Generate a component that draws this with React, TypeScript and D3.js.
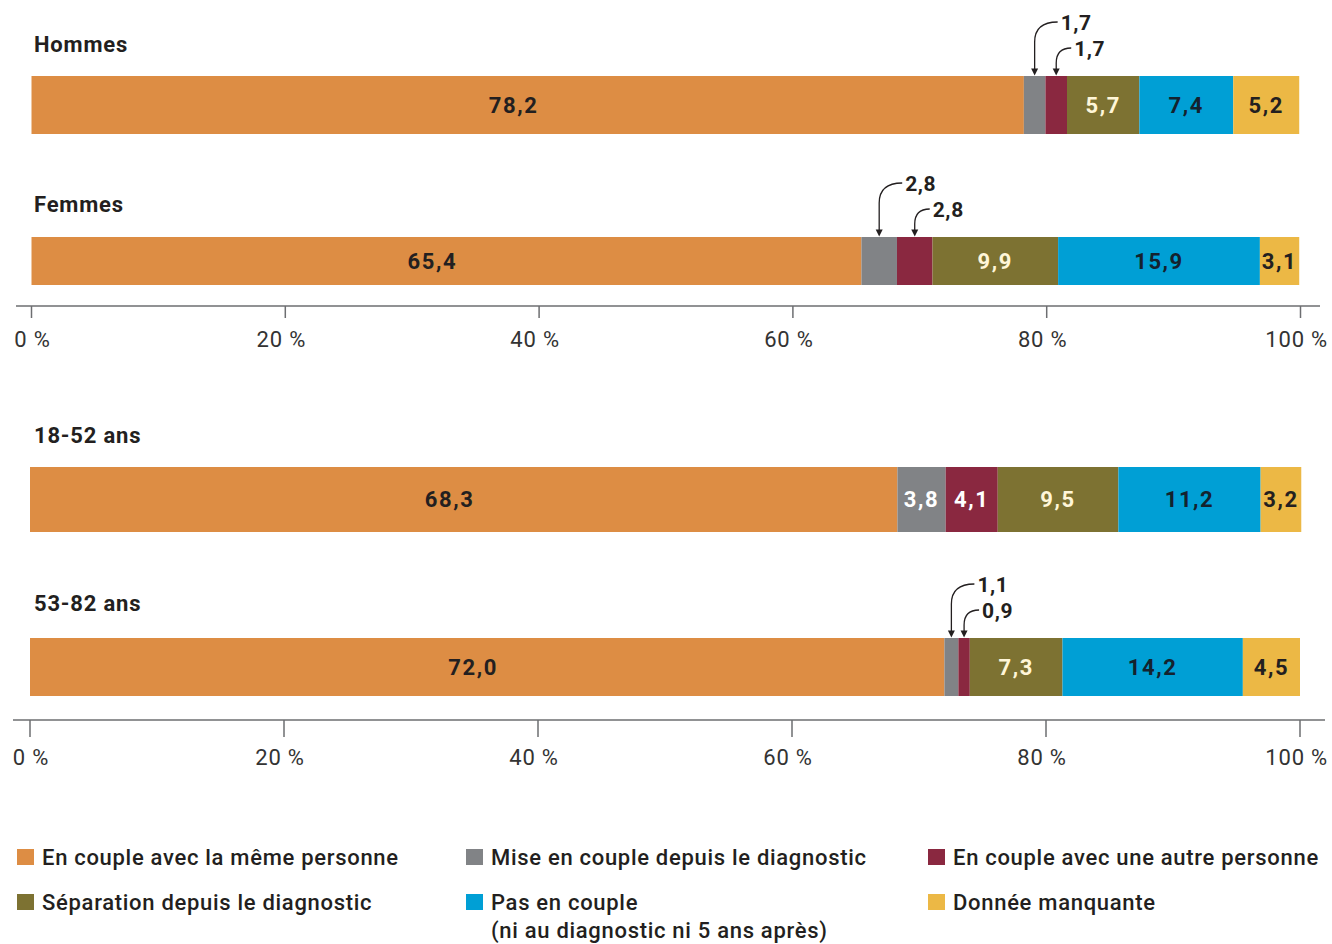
import React from "react";
import * as d3 from "d3";

// Categories of couple situation, in stacking order
const categories = [
  "En couple avec la même personne",
  "Mise en couple depuis le diagnostic",
  "En couple avec une autre personne",
  "Séparation depuis le diagnostic",
  "Pas en couple\n(ni au diagnostic ni 5 ans après)",
  "Donnée manquante",
];

// Panel 1: by sex
const sexGroups = ["Hommes", "Femmes"];
const hommesValues = [78.2, 1.7, 1.7, 5.7, 7.4, 5.2];
const femmesValues = [65.4, 2.8, 2.8, 9.9, 15.9, 3.1];

// Panel 2: by age at diagnosis
const ageGroups = ["18-52 ans", "53-82 ans"];
const age1852Values = [68.3, 3.8, 4.1, 9.5, 11.2, 3.2];
const age5382Values = [72.0, 1.1, 0.9, 7.3, 14.2, 4.5];

const tickValues = [0, 20, 40, 60, 80, 100];

const colors = ["#DD8D44", "#818386", "#8A2840", "#7D7232", "#009FD5", "#ECB845"];
const textColors = ["#231F20", "#FFFFFF", "#FFFFFF", "#FFF6D8", "#14222E", "#231F20"];
// horizontal nudge of in-bar labels, per category
const labelNudge = [-14, 0, 0, 0, 0, 0];

const FONT = "Roboto, 'Noto Sans', sans-serif";
const W = 1332;
const H = 944;

const fmt = (v: number) => d3.format(".1f")(v).replace(".", ",");
const fmtTick = (v: number) => `${v}\u00a0%`;

type Row = { label: string; values: number[]; labelY: number; barTop: number; barH: number };
type Panel = {
  rows: Row[];
  range: [number, number];
  axisY: number;
  axisX: [number, number];
  tickLen: number;
  tickLabelY: number;
};

const panels: Panel[] = [
  {
    rows: [
      { label: sexGroups[0], values: hommesValues, labelY: 52, barTop: 76, barH: 58 },
      { label: sexGroups[1], values: femmesValues, labelY: 212, barTop: 237, barH: 48 },
    ],
    range: [31.5, 1300.5],
    axisY: 306,
    axisX: [16, 1320],
    tickLen: 12,
    tickLabelY: 347,
  },
  {
    rows: [
      { label: ageGroups[0], values: age1852Values, labelY: 443, barTop: 467, barH: 65 },
      { label: ageGroups[1], values: age5382Values, labelY: 611, barTop: 638, barH: 58 },
    ],
    range: [30, 1300],
    axisY: 720,
    axisX: [13, 1325],
    tickLen: 17,
    tickLabelY: 765,
  },
];

const INSIDE_MIN = 3;

function BarRow({ row, x }: { row: Row; x: d3.ScaleLinear<number, number> }) {
  const stacked = d3.cumsum(row.values);
  const segs = row.values.map((v, i) => ({
    v,
    i,
    x0: x(i === 0 ? 0 : stacked[i - 1]),
    x1: x(stacked[i]),
  }));
  const outside = segs.filter((s) => s.v < INSIDE_MIN);
  const cy = row.barTop + row.barH / 2;
  return (
    <g>
      <text
        x={34}
        y={row.labelY}
        fontSize={22}
        fontWeight={700}
        letterSpacing={0.8}
        fill="#231F20"
        fontFamily={FONT}
      >
        {row.label}
      </text>
      {segs.map((s) => (
        <rect
          key={s.i}
          x={s.x0}
          y={row.barTop}
          width={Math.max(0, s.x1 - s.x0)}
          height={row.barH}
          fill={colors[s.i]}
        />
      ))}
      {segs
        .filter((s) => s.v >= INSIDE_MIN)
        .map((s) => (
          <text
            key={s.i}
            x={(s.x0 + s.x1) / 2 + labelNudge[s.i]}
            y={cy}
            dy="0.36em"
            textAnchor="middle"
            fontSize={22}
            fontWeight={700}
            letterSpacing={1.6}
            fill={textColors[s.i]}
            fontFamily={FONT}
          >
            {fmt(s.v)}
          </text>
        ))}
      {outside.map((s, k) => {
        const cx = (s.x0 + s.x1) / 2;
        const baseY = row.barTop - (k === 0 ? 46 : 20);
        const lx = cx + (k === 0 ? 26 : 18);
        const sx = lx - 3;
        const sy = baseY - 8;
        const r = Math.min(sx - cx, 20);
        const tip = row.barTop - 0.5;
        const path = `M${sx},${sy} Q${cx},${sy} ${cx},${sy + r} L${cx},${tip - 6}`;
        return (
          <g key={s.i}>
            <path d={path} fill="none" stroke="#231F20" strokeWidth={1.3} />
            <path d={`M${cx - 3.5},${tip - 7} L${cx + 3.5},${tip - 7} L${cx},${tip} Z`} fill="#231F20" />
            <text
              x={lx}
              y={baseY}
              fontSize={21}
              fontWeight={700}
              letterSpacing={0.6}
              fill="#231F20"
              fontFamily={FONT}
            >
              {fmt(s.v)}
            </text>
          </g>
        );
      })}
    </g>
  );
}

function PanelView({ panel }: { panel: Panel }) {
  const x = d3.scaleLinear().domain([0, 100]).range(panel.range);
  return (
    <g>
      {panel.rows.map((row) => (
        <BarRow key={row.label} row={row} x={x} />
      ))}
      <line
        x1={panel.axisX[0]}
        x2={panel.axisX[1]}
        y1={panel.axisY}
        y2={panel.axisY}
        stroke="#6D6E71"
        strokeWidth={1.5}
      />
      {tickValues.map((t, i) => (
        <g key={t}>
          <line
            x1={x(t)}
            x2={x(t)}
            y1={panel.axisY}
            y2={panel.axisY + panel.tickLen}
            stroke="#6D6E71"
            strokeWidth={1.5}
          />
          <text
            x={i === tickValues.length - 1 ? 1328 : x(t) - (i === 0 ? -1 : 4)}
            y={panel.tickLabelY}
            textAnchor={i === tickValues.length - 1 ? "end" : "middle"}
            fontSize={22}
            letterSpacing={0.8}
            fill="#333333"
            fontFamily={FONT}
          >
            {fmtTick(t)}
          </text>
        </g>
      ))}
    </g>
  );
}

function Legend() {
  const colX = [17, 466, 928];
  const rowY = [849, 894];
  return (
    <g>
      {categories.map((c, i) => {
        const lx = colX[i % 3];
        const ly = rowY[Math.floor(i / 3)];
        const lines = c.split("\n");
        return (
          <g key={c}>
            <rect x={lx} y={ly} width={17} height={16} fill={colors[i]} />
            <text
              x={lx + 25}
              y={ly + 16}
              fontSize={22}
              fontWeight={500}
              letterSpacing={0.7}
              fill="#231F20"
              fontFamily={FONT}
            >
              {lines.map((ln, j) => (
                <tspan key={j} x={lx + 25} dy={j === 0 ? 0 : 28}>
                  {ln}
                </tspan>
              ))}
            </text>
          </g>
        );
      })}
    </g>
  );
}

export default function App() {
  return (
    <svg
      width={W}
      height={H}
      viewBox={`0 0 ${W} ${H}`}
      style={{ position: "absolute", left: 0, top: 0, background: "#FFFFFF" }}
    >
      <rect x={0} y={0} width={W} height={H} fill="#FFFFFF" />
      {panels.map((p, i) => (
        <PanelView key={i} panel={p} />
      ))}
      <Legend />
    </svg>
  );
}
